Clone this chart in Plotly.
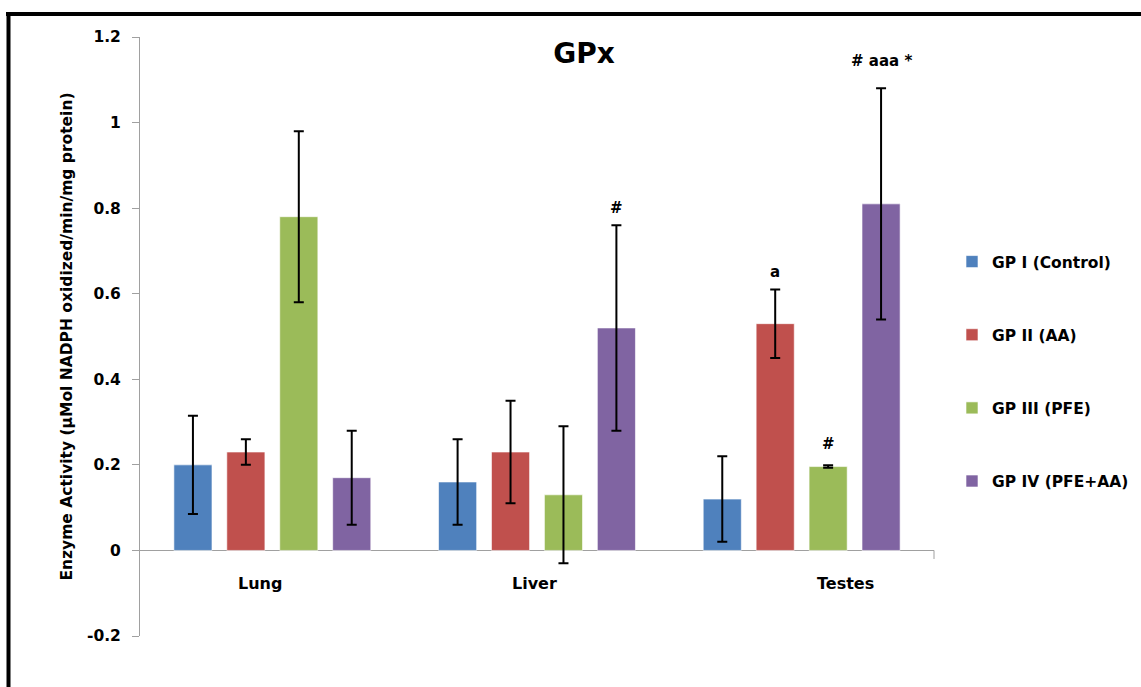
import plotly.graph_objects as go

categories = ["Lung", "Liver", "Testes"]
series_names = ["GP I (Control)", "GP II (AA)", "GP III (PFE)", "GP IV (PFE+AA)"]
values = {
    "GP I (Control)": [0.20, 0.16, 0.12],
    "GP II (AA)": [0.23, 0.23, 0.53],
    "GP III (PFE)": [0.78, 0.13, 0.196],
    "GP IV (PFE+AA)": [0.17, 0.52, 0.81],
}
errors = {
    "GP I (Control)": [0.115, 0.10, 0.10],
    "GP II (AA)": [0.03, 0.12, 0.08],
    "GP III (PFE)": [0.20, 0.16, 0.003],
    "GP IV (PFE+AA)": [0.11, 0.24, 0.27],
}
sig_labels = {
    "GP I (Control)": ["", "", ""],
    "GP II (AA)": ["", "", "a"],
    "GP III (PFE)": ["", "", "#"],
    "GP IV (PFE+AA)": ["", "#", "# aaa *"],
}
y_ticks = [-0.2, 0, 0.2, 0.4, 0.6, 0.8, 1, 1.2]
y_tick_text = ["-0.2", "0", "0.2", "0.4", "0.6", "0.8", "1", "1.2"]

colors = ["#4F81BD", "#C0504D", "#9BBB59", "#8064A2"]
FONT = "DejaVu Sans"

# layout geometry (pixels)
W, H = 1141, 687
ML, MR, MT, MB = 140, 207, 37, 51
plot_w = W - ML - MR
plot_h = H - MT - MB
BARGAP = 0.2
slot_px = plot_w / len(categories) * (1 - BARGAP) / len(series_names)

fig = go.Figure()
for i, name in enumerate(series_names):
    fig.add_trace(go.Bar(
        name=name,
        x=categories,
        y=values[name],
        marker=dict(color=colors[i], line=dict(color="rgba(255,255,255,0.6)", width=1)),
        error_y=dict(type="data", array=errors[name], visible=True,
                     color="black", thickness=2, width=5),
        legendgroup=name,
    ))

# extra vertical gap (px) of each significance label above its error bar
label_gap = {"a": 6, "#": 6, "# aaa *": 16}
annotations = []
for i, name in enumerate(series_names):
    for j, cat in enumerate(categories):
        lab = sig_labels[name][j]
        if lab:
            gap = label_gap.get(lab, 6)
            if name == "GP III (PFE)":
                gap = 10
            annotations.append(dict(
                x=cat, y=values[name][j] + errors[name][j], xref="x", yref="y",
                text=lab, showarrow=False,
                xshift=(i - 1.5) * slot_px, yshift=gap, yanchor="bottom",
                font=dict(family=FONT, size=15, color="black", weight="bold"),
            ))

label_xshift = [-12, -3, 44]
for j, cat in enumerate(categories):
    annotations.append(dict(
        x=cat, y=0, xref="x", yref="y", text=cat,
        showarrow=False, yanchor="middle", yshift=-33, xshift=label_xshift[j],
        font=dict(family=FONT, size=16, color="black", weight="bold"),
    ))

def px_to_paper_x(px):
    return (px - ML) / plot_w

def px_to_paper_y(py):
    return (H - MB - py) / plot_h

shapes = [
    # outer frame: top and left borders
    dict(type="line", xref="paper", yref="paper",
         x0=px_to_paper_x(6), x1=px_to_paper_x(1150),
         y0=px_to_paper_y(14), y1=px_to_paper_y(14),
         line=dict(color="black", width=4)),
    dict(type="line", xref="paper", yref="paper",
         x0=px_to_paper_x(8.5), x1=px_to_paper_x(8.5),
         y0=px_to_paper_y(700), y1=px_to_paper_y(12),
         line=dict(color="black", width=4)),
    # end tick of category axis
    dict(type="line", xref="paper", yref="y",
         x0=1, x1=1, y0=0, y1=-0.02,
         line=dict(color="#A0A0A0", width=1)),
]

fig.update_layout(
    width=W, height=H,
    margin=dict(l=ML, r=MR, t=MT, b=MB, autoexpand=False),
    paper_bgcolor="white", plot_bgcolor="white",
    barmode="group", bargap=BARGAP, bargroupgap=0.28,
    title=dict(text="GPx", x=584 / W, xanchor="center",
               y=1 - 53 / H, yanchor="middle", yref="container",
               font=dict(family=FONT, size=28, color="black", weight="bold")),
    font=dict(family=FONT, color="black"),
    legend=dict(x=px_to_paper_x(952), xanchor="left",
                y=px_to_paper_y(245), yanchor="top",
                font=dict(family=FONT, size=15.5, color="black", weight="bold"),
                tracegroupgap=50, itemwidth=30,
                bgcolor="rgba(0,0,0,0)"),
    xaxis=dict(showticklabels=False, showline=False, showgrid=False,
               zeroline=False, ticks=""),
    yaxis=dict(range=[-0.2, 1.2], tickvals=y_ticks, ticktext=y_tick_text,
               showgrid=False, showline=True, linecolor="#A0A0A0", linewidth=1,
               ticks="outside", ticklen=7, tickcolor="#A0A0A0",
               zeroline=True, zerolinecolor="#A0A0A0", zerolinewidth=1,
               tickfont=dict(family=FONT, size=15.5, color="black", weight="bold"),
               ticklabelstandoff=8,
               title=dict(text="Enzyme Activity (µMol NADPH oxidized/min/mg protein)",
                          font=dict(family=FONT, size=15.5, color="black", weight="bold"),
                          standoff=10)),
    annotations=annotations,
    shapes=shapes,
)

fig.write_html("out.html", post_script="document.body.style.margin='0';",
               config={"displayModeBar": False})
